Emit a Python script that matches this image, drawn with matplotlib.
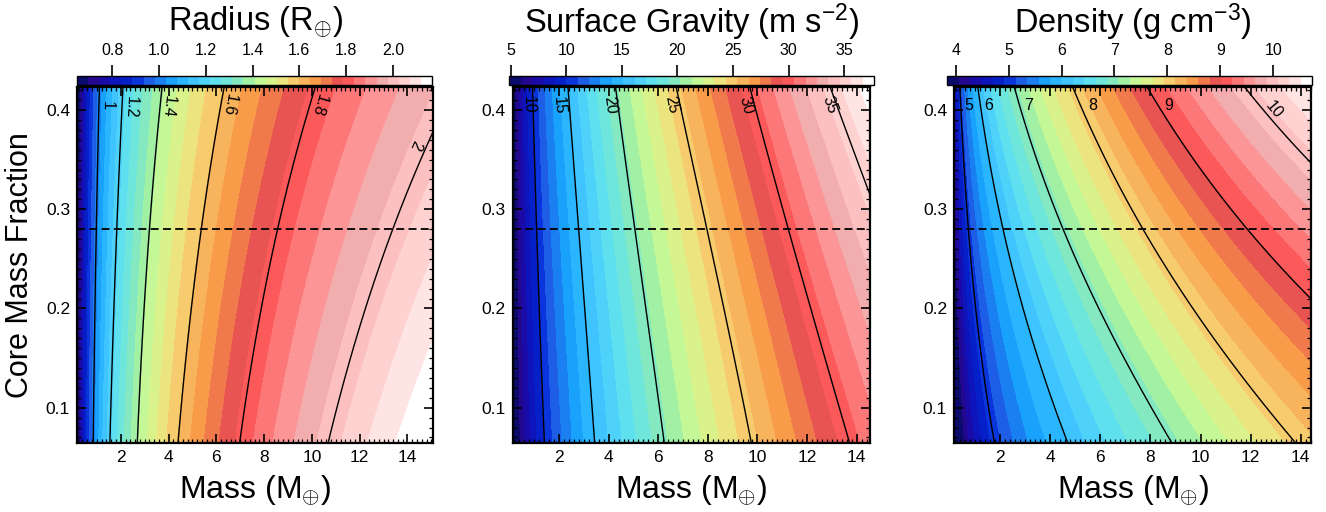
import numpy as np
import matplotlib
matplotlib.use('Agg')
import matplotlib.pyplot as plt
from matplotlib.colors import ListedColormap
from matplotlib.ticker import MultipleLocator, FixedLocator

plt.rcParams['font.family'] = ['Liberation Sans', 'DejaVu Sans']
plt.rcParams['mathtext.fontset'] = 'custom'
plt.rcParams['mathtext.rm'] = 'Liberation Sans'
plt.rcParams['mathtext.it'] = 'Liberation Sans'
plt.rcParams['mathtext.fallback'] = 'cm'

# ---------------- data ----------------
# core-mass-fraction rows at which contour crossings were read
CMF_ROWS = [0.065, 0.20, 0.28, 0.42]
CMF_REF = 0.28

# Radius (Earth radii): mass (Earth masses) where each level is crossed
RADIUS_LEVELS = [1.0, 1.2, 1.4, 1.6, 1.8, 2.0]
RADIUS_CROSS = [
    [0.85, 0.91, 0.99, 1.10],
    [1.55, 1.69, 1.86, 2.08],
    [2.70, 2.95, 3.23, 3.71],
    [4.41, 4.90, 5.43, 6.29],
    [6.99, 7.83, 8.62, 10.09],
    [10.69, 12.22, 13.41, 15.9],
]
RADIUS_LABELS = ['1', '1.2', '1.4', '1.6', '1.8', '2']
RADIUS_CBAR_RANGE = (0.65, 2.167)
RADIUS_CBAR_TICKS = [0.8, 1.0, 1.2, 1.4, 1.6, 1.8, 2.0]
RADIUS_MASS_RANGE = (0.17, 15.07)

# Surface gravity (m s^-2)
GRAVITY_LEVELS = [10, 15, 20, 25, 30, 35]
GRAVITY_CROSS = [
    [1.40, 1.23, 1.07, 0.94],
    [3.42, 3.09, 2.74, 2.38],
    [6.23, 5.54, 5.02, 4.30],
    [9.72, 8.76, 7.86, 6.77],
    [13.70, 12.19, 11.21, 9.73],
    [18.3, 16.4, 14.95, 13.0],
]
GRAVITY_LABELS = ['10', '15', '20', '25', '30', '35']
GRAVITY_CBAR_RANGE = (4.85, 37.7)
GRAVITY_CBAR_TICKS = [5, 10, 15, 20, 25, 30, 35]
GRAVITY_MASS_RANGE = (0.13, 14.54)

# Density (g cm^-3)
DENSITY_LEVELS = [5, 6, 7, 8, 9, 10]
DENSITY_CROSS = [
    [1.77, 1.03, 0.73, 0.40],
    [4.69, 2.93, 2.11, 1.13],
    [8.85, 5.92, 4.53, 2.60],
    [13.84, 9.51, 7.85, 4.93],
    [21.2, 14.6, 12.02, 7.92],
    [30.0, 21.0, 17.3, 11.84],
]
DENSITY_LABELS = ['5', '6', '7', '8', '9', '10']
DENSITY_CBAR_RANGE = (3.84, 10.74)
DENSITY_CBAR_TICKS = [4, 5, 6, 7, 8, 9, 10]
DENSITY_MASS_RANGE = (0.16, 14.41)

CMF_RANGE = (0.0644, 0.4232)

# 32-step colour table
COLORS = ['#0b0b6b', '#23088f', '#1a0aa8', '#0d14bb', '#0520c9', '#0a34dc',
          '#1e5ee6', '#1a80f2', '#18a2fb', '#2ab6ff', '#3fc4ff', '#4fd2fa',
          '#5fe0ee', '#6ee6dc', '#84e8c0', '#a2f0a4', '#c4f897', '#daf28c',
          '#ece47e', '#f6cc6e', '#f8b45c', '#f89c4a', '#f07a4c', '#e85452',
          '#fc5a5a', '#fc7878', '#fc9696', '#f2aeae', '#fcc0c0', '#ffd2d2',
          '#ffe4e4', '#ffffff']
cmap = ListedColormap(COLORS)


def crossing(row, c):
    """Smooth (quadratic, least-squares) curve through the read crossings."""
    coef = np.polyfit(CMF_ROWS, np.log(row), 2)
    return np.exp(np.polyval(coef, c))


def build_field(mass, cmf, levels, cross):
    cross = np.asarray(cross, float)
    lx = np.log(mass)
    ly = np.log(np.asarray(levels, float))
    Z = np.empty((len(cmf), len(mass)))
    for i, c in enumerate(cmf):
        xm = np.log([crossing(row, c) for row in cross])
        z = np.interp(lx, xm, ly)
        lo = lx < xm[0]
        s0 = (ly[1] - ly[0]) / (xm[1] - xm[0])
        z[lo] = ly[0] + s0 * (lx[lo] - xm[0])
        hi = lx > xm[-1]
        s1 = (ly[-1] - ly[-2]) / (xm[-1] - xm[-2])
        z[hi] = ly[-1] + s1 * (lx[hi] - xm[-1])
        Z[i] = np.exp(z)
    return Z


W, H = 1326, 512
fig = plt.figure(figsize=(W / 100, H / 100), dpi=100)


def px_rect(x0, y0, x1, y1):
    return [x0 / W, 1 - y1 / H, (x1 - x0) / W, (y1 - y0) / H]


panels = [
    dict(levels=RADIUS_LEVELS, cross=RADIUS_CROSS, labels=RADIUS_LABELS,
         crange=RADIUS_CBAR_RANGE, cticks=RADIUS_CBAR_TICKS, cfmt='%.1f',
         mrange=RADIUS_MASS_RANGE,
         title='Radius (R$_{\\oplus}$)',
         ax=(77, 87, 433, 443), cax=(77, 76, 432, 85),
         lab_cmf=[0.405, 0.403, 0.403, 0.405, 0.405, 0.365],
         lab_dx=[8, 9, 8, 8, 9, -12],
         lab_rot=[True] * 6),
    dict(levels=GRAVITY_LEVELS, cross=GRAVITY_CROSS, labels=GRAVITY_LABELS,
         crange=GRAVITY_CBAR_RANGE, cticks=GRAVITY_CBAR_TICKS, cfmt='%d',
         mrange=GRAVITY_MASS_RANGE,
         title='Surface Gravity (m s$^{-2}$)',
         ax=(512.7, 87, 870, 443), cax=(509.3, 76, 874, 85),
         lab_cmf=[0.405] * 6,
         lab_dx=[-5, -10, -8, -9, -8, -7],
         lab_rot=[True] * 6),
    dict(levels=DENSITY_LEVELS, cross=DENSITY_CROSS, labels=DENSITY_LABELS,
         crange=DENSITY_CBAR_RANGE, cticks=DENSITY_CBAR_TICKS, cfmt='%d',
         mrange=DENSITY_MASS_RANGE,
         title='Density (g cm$^{-3}$)',
         ax=(954, 87, 1311, 443), cax=(947.3, 76, 1312.3, 85),
         lab_cmf=[0.405, 0.405, 0.405, 0.405, 0.405, 0.400],
         lab_dx=[8, 8, 9, 12, 11, 11],
         lab_rot=[False] * 5 + [True]),
]

for k, p in enumerate(panels):
    ax = fig.add_axes(px_rect(*p['ax']))
    mass = np.linspace(p['mrange'][0], p['mrange'][1], 500)
    cmf = np.linspace(CMF_RANGE[0], CMF_RANGE[1], 300)
    M, C = np.meshgrid(mass, cmf)
    Z = build_field(mass, cmf, p['levels'], p['cross'])
    vmin, vmax = p['crange']
    flev = np.linspace(vmin, vmax, len(COLORS) + 1)
    eps = (vmax - vmin) * 1e-4
    cf = ax.contourf(M, C, np.clip(Z, vmin + eps, vmax - eps), levels=flev,
                     cmap=cmap, antialiased=False)
    ax.contour(M, C, Z, levels=p['levels'], colors='k', linewidths=1.0)
    ax.axhline(CMF_REF, color='k', lw=1.3, ls=(0, (4.4, 2.4)))
    ax.set_xlim(*p['mrange'])
    ax.set_ylim(*CMF_RANGE)

    ax.xaxis.set_major_locator(MultipleLocator(2))
    ax.xaxis.set_minor_locator(MultipleLocator(0.2))
    ax.yaxis.set_major_locator(FixedLocator([0.1, 0.2, 0.3, 0.4]))
    ax.yaxis.set_minor_locator(MultipleLocator(0.01))
    ax.tick_params(which='both', direction='in', top=True, right=True,
                   labelsize=12.5, color='k')
    ax.tick_params(which='major', length=6.5, width=1.2, pad=5)
    ax.tick_params(which='minor', length=3, width=0.9)
    ax.set_xticks([2, 4, 6, 8, 10, 12, 14])
    ax.set_xticklabels(['2', '4', '6', '8', '10', '12', '14'])
    ax.set_yticklabels(['0.1', '0.2', '0.3', '0.4'])
    for s in ax.spines.values():
        s.set_linewidth(1.6)
    ax.set_xlabel('Mass (M$_{\\oplus}$)', fontsize=23, labelpad=6)
    if k == 0:
        ax.set_ylabel('Core Mass Fraction', fontsize=22, labelpad=8)

    # contour labels
    cross = np.asarray(p['cross'], float)
    for j, lev in enumerate(p['levels']):
        c = p['lab_cmf'][j]
        m_at = crossing(cross[j], c)
        rot = 0
        if p['lab_rot'][j]:
            pa = ax.transData.transform((crossing(cross[j], c - 0.02), c - 0.02))
            pb = ax.transData.transform((crossing(cross[j], c + 0.02), c + 0.02))
            dx, dy = pb - pa
            rot = np.degrees(np.arctan2(-dy, -dx))
        ax.annotate(p['labels'][j], xy=(m_at, c), xytext=(p['lab_dx'][j], 0),
                    textcoords='offset pixels', ha='center', va='center',
                    rotation=rot, rotation_mode='anchor', fontsize=11.5,
                    annotation_clip=False)

    # colour bar
    cax = fig.add_axes(px_rect(*p['cax']))
    cb = fig.colorbar(cf, cax=cax, orientation='horizontal')
    cb.set_ticks(p['cticks'])
    cb.set_ticklabels([p['cfmt'] % t for t in p['cticks']])
    cax.xaxis.set_ticks_position('top')
    cax.xaxis.set_label_position('top')
    cax.tick_params(axis='x', direction='out', length=8, width=1.2,
                    labelsize=11.5, pad=5)
    cax.minorticks_off()
    cb.outline.set_linewidth(1.0)
    cx = (p['ax'][0] + p['ax'][2]) / 2 / W
    fig.text(cx, 1 - 22 / H, p['title'], ha='center', va='center', fontsize=23.5)

fig.savefig('out.png', dpi=100)
